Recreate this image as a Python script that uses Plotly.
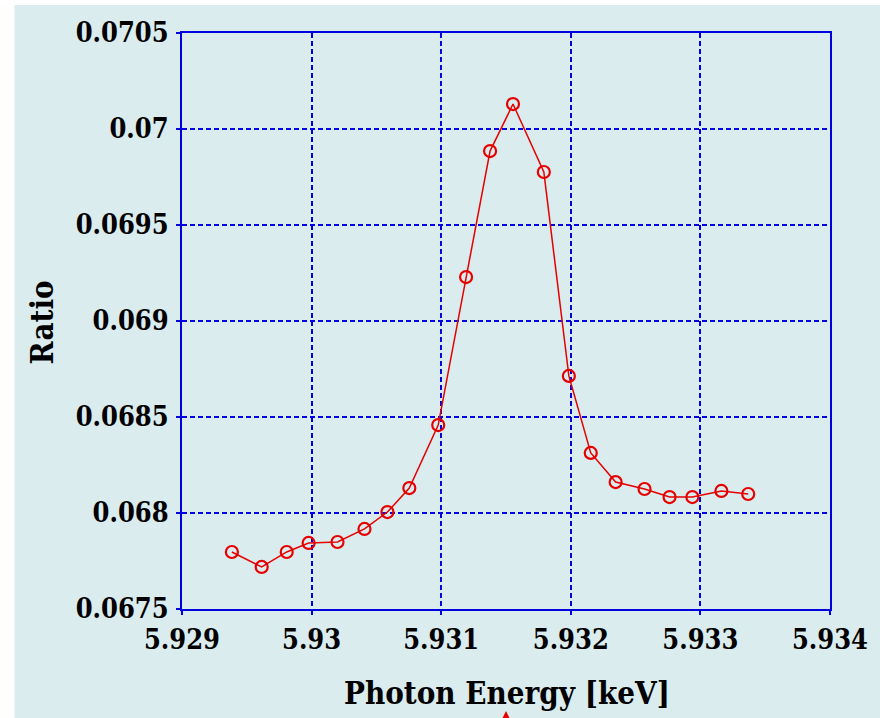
import plotly.graph_objects as go

energy = [5.929385, 5.929615, 5.929808, 5.929977, 5.930200, 5.930408, 5.930585,
          5.930754, 5.930977, 5.931192, 5.931377, 5.931554, 5.931792, 5.931985,
          5.932154, 5.932346, 5.932569, 5.932762, 5.932938, 5.933162, 5.933369]
ratio = [0.067797, 0.067719, 0.067797, 0.067844, 0.067849, 0.067917, 0.068005,
         0.068130, 0.068458, 0.069229, 0.069885, 0.070130, 0.069776, 0.068714,
         0.068313, 0.068161, 0.068125, 0.068083, 0.068083, 0.068115, 0.068099]

x_ticks = [5.929, 5.930, 5.931, 5.932, 5.933, 5.934]
x_tick_text = ["5.929", "5.93", "5.931", "5.932", "5.933", "5.934"]
y_ticks = [0.0675, 0.068, 0.0685, 0.069, 0.0695, 0.07, 0.0705]
y_tick_text = ["0.0675", "0.068", "0.0685", "0.069", "0.0695", "0.07", "0.0705"]

W, H = 880, 718
ML, MR, MT, MB = 182, 48, 33, 109
PW, PH = W - ML - MR, H - MT - MB

def px_x(p):
    return (p - ML) / PW

def px_y(p):
    return (H - MB - p) / PH

RED = "#E60000"
BLUE = "#0000E0"
BG = "#DAECEE"
FONT = "DejaVu Serif Condensed, DejaVu Serif, serif"

fig = go.Figure()
fig.add_trace(go.Scatter(
    x=energy, y=ratio, mode="lines+markers",
    line=dict(color=RED, width=1.5),
    marker=dict(symbol="circle-open", size=12, color=RED, line=dict(width=2.2, color=RED)),
    showlegend=False,
))

axis_common = dict(
    showline=True, mirror=True, linecolor=BLUE, linewidth=2,
    showgrid=True, gridcolor=BLUE, gridwidth=2, griddash="5px,3px",
    zeroline=False, ticks="outside", ticklen=4, tickcolor=BLUE, tickwidth=1.5,
    tickfont=dict(family=FONT, size=27, color="black", weight="bold"),
)

fig.update_xaxes(range=[5.929, 5.934], tickvals=x_ticks, ticktext=x_tick_text,
                 ticklabelstandoff=2, **axis_common)
fig.update_yaxes(range=[0.0675, 0.0705], tickvals=y_ticks, ticktext=y_tick_text,
                 ticklabelstandoff=2, **axis_common)

fig.add_shape(type="rect", xref="paper", yref="paper",
              x0=px_x(14), x1=px_x(W + 5), y0=px_y(H + 5), y1=px_y(5),
              fillcolor=BG, line=dict(width=0), layer="below")
fig.add_shape(type="path", xref="paper", yref="paper",
              path=f"M {px_x(503)} {px_y(719)} L {px_x(507)} {px_y(711)} L {px_x(511)} {px_y(719)} Z",
              fillcolor=RED, line=dict(width=0), layer="above")

fig.add_annotation(text="Photon Energy [keV]", xref="paper", yref="paper",
                   x=px_x(508), y=px_y(693), xanchor="center", yanchor="middle",
                   showarrow=False,
                   font=dict(family=FONT, size=31, color="black", weight="bold"))
fig.add_annotation(text="Ratio", xref="paper", yref="paper",
                   x=px_x(42), y=px_y(322), xanchor="center", yanchor="middle",
                   textangle=-90, showarrow=False,
                   font=dict(family=FONT, size=31, color="black", weight="bold"))

fig.update_layout(
    width=W, height=H,
    margin=dict(l=ML, r=MR, t=MT, b=MB, pad=0),
    paper_bgcolor="white", plot_bgcolor="rgba(0,0,0,0)",
)

fig.write_html("out.html")
